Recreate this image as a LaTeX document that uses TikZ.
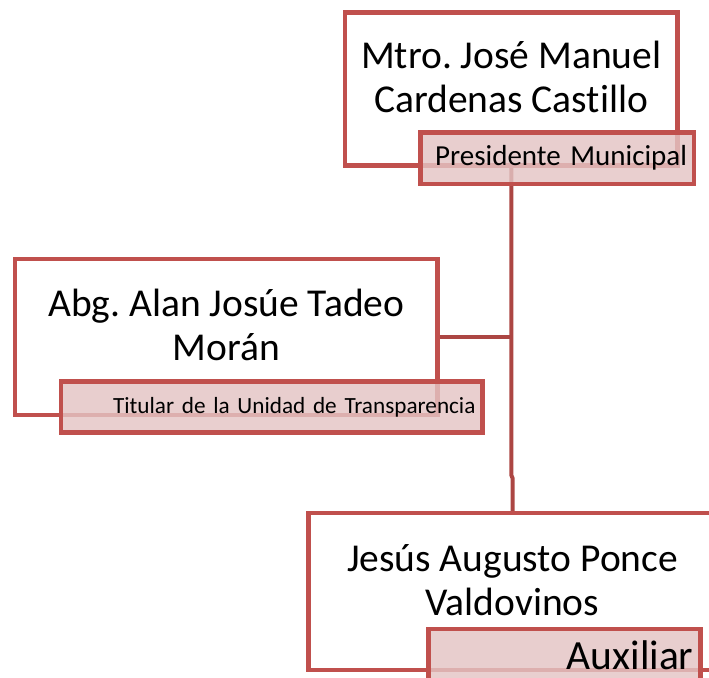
\documentclass[tikz,border=0pt]{standalone}
\usepackage{fontspec}
\setmainfont{Carlito}[Ligatures=NoCommon]
\frenchspacing
\usetikzlibrary{positioning,calc,backgrounds}
\definecolor{rojocaja}{HTML}{C0504D}
\definecolor{rojolinea}{HTML}{AC4643}
\definecolor{rosapuesto}{RGB}{228,196,196}

\begin{document}
\begin{tikzpicture}[x=1pt,y=-1pt,
    caja/.style={draw=rojocaja, line width=4.5pt, fill=white, rectangle, outer sep=0pt, inner sep=0pt, anchor=north west},
    puesto/.style={draw=rojocaja, line width=4.5pt, fill=rosapuesto, fill opacity=.82, draw opacity=1, text opacity=1,
        rectangle, outer sep=0pt, inner xsep=7pt, inner ysep=0pt, align=right, anchor=north west},
    nombre/.style={align=center, font=\fontsize{39.5}{44}\selectfont, anchor=base, inner sep=0pt},
    enlace/.style={draw=rojolinea, line width=4pt}]
    \useasboundingbox (0,0) rectangle (709,677);
    \clip (0,0) rectangle (709,677);

    % presidente
    \node[caja, minimum width=332.5pt, minimum height=153pt] (presidente) at (345,12.5) {};
    \node[nombre] (presidenteNombre) at (511.25,112) {Mtro. José Manuel\\Cardenas Castillo};
    \node[puesto, text width=259.5pt, minimum height=51.5pt, font=\fontsize{29}{34}\selectfont] (presidentePuesto) at (420.5,132.5) {Presidente Municipal};

    % titular de transparencia
    \node[caja, minimum width=422.5pt, minimum height=156pt] (titular) at (15,259) {};
    \node[nombre] (titularNombre) at (226.25,360) {Abg. Alan Josúe Tadeo\\Morán};
    \node[puesto, text width=407.5pt, minimum height=51pt, font=\fontsize{23.2}{28}\selectfont] (titularPuesto) at (61,381.5) {Titular de la Unidad de Transparencia};

    % auxiliar
    \node[caja, minimum width=408pt, minimum height=157pt] (auxiliar) at (308.5,513) {};
    \node[nombre] (auxiliarNombre) at (512.5,615) {Jesús Augusto Ponce\\Valdovinos};
    \node[puesto, text width=258pt, minimum height=52pt, font=\fontsize{41.5}{48}\selectfont] (auxiliarPuesto) at (428.5,629) {Auxiliar};

    \begin{scope}[on background layer]
        \coordinate (codoA) at (presidente.south |- 0,475);
        \coordinate (codoB) at (auxiliar.north |- 0,478);
        \draw[enlace] (presidente.south) -- (codoA) -- (codoB) -- (auxiliar.north);
        \draw[enlace] (titular.east) -- (titular.east -| presidente.south);
    \end{scope}
\end{tikzpicture}
\end{document}
